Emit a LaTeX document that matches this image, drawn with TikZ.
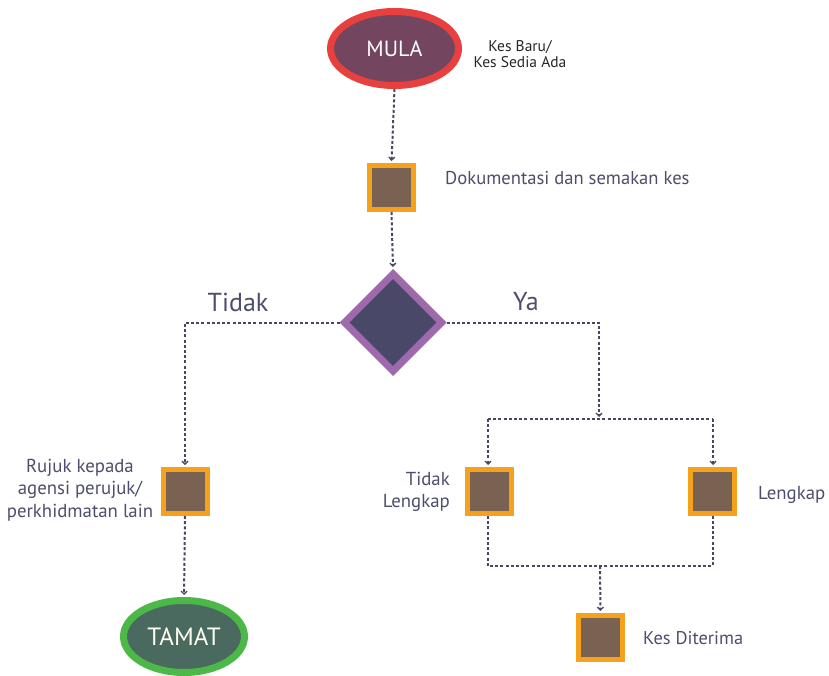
\documentclass[tikz,border=0pt]{standalone}
\usepackage{fontspec}
\setmainfont{PT Sans}
\usetikzlibrary{shapes.geometric,arrows.meta}
\definecolor{plum}{RGB}{115,69,94}
\definecolor{redring}{RGB}{232,64,63}
\definecolor{boxfill}{RGB}{122,98,83}
\definecolor{boxedge}{RGB}{245,161,28}
\definecolor{diafill}{RGB}{74,72,104}
\definecolor{diaedge}{RGB}{158,106,172}
\definecolor{greenring}{RGB}{76,184,72}
\definecolor{endfill}{RGB}{74,106,96}
\definecolor{linecol}{RGB}{72,70,100}
\definecolor{txt}{RGB}{77,77,109}
\newcommand{\fs}[2]{\fontsize{#1}{#2}\selectfont}
\tikzset{
  stepbox/.style={draw=boxedge, fill=boxfill, line width=5pt, minimum size=44pt, inner sep=0pt},
  flow/.style={draw=linecol, line width=2pt, dash pattern=on 3pt off 2.2pt},
  flowarrow/.style={flow, -{Straight Barb[length=3pt,width=6pt,line width=1.3pt]}, shorten >=2pt},
  lbl/.style={text=txt, inner sep=0pt},
}
\begin{document}
\begin{tikzpicture}[x=1pt,y=-1pt]
\useasboundingbox (0,0) rectangle (829,676);
% nodes
\node[ellipse, draw=redring, fill=plum, line width=7pt, minimum width=128pt, minimum height=74pt, inner sep=0pt, text=white, font=\fs{22}{26}] (mula) at (394.5,48.5) {MULA};
\node[lbl, text=black!85, align=center, font=\fs{15.5}{16}] (kesbaru) at (520,54) {Kes Baru/\\Kes Sedia Ada};
\node[stepbox] (dok) at (391.5,187.5) {};
\node[lbl, anchor=west, font=\fs{18.6}{22}] (doktxt) at (445,178) {Dokumentasi dan semakan kes};
\node[diamond, draw=diaedge, fill=diafill, line width=7pt, minimum width=100pt, minimum height=100pt, inner sep=0pt] (dia) at (393,322.5) {};
\node[lbl, font=\fs{26}{30}] (tidak) at (238,302) {Tidak};
\node[lbl, font=\fs{26}{30}] (ya) at (526,302) {Ya};
\node[stepbox] (rujuk) at (185,491.5) {};
\node[lbl, align=center, font=\fs{18.8}{22.5}] (rujuktxt) at (80,490) {Rujuk kepada\\agensi perujuk/\\perkhidmatan lain};
\node[ellipse, draw=greenring, fill=endfill, line width=7pt, minimum width=121pt, minimum height=72pt, inner sep=0pt, text=white!95!yellow, font=\fs{25}{28}] (tamat) at (184,636.5) {TAMAT};
\node[stepbox] (tl) at (489.5,491.5) {};
\node[lbl, align=right, anchor=east, font=\fs{18.8}{22.5}] (tltxt) at (450,492) {Tidak\\Lengkap};
\node[stepbox] (lk) at (712.5,491.5) {};
\node[lbl, anchor=west, font=\fs{18.8}{22}] (lktxt) at (758,495) {Lengkap};
\node[stepbox] (kd) at (600.5,637.5) {};
\node[lbl, anchor=west, font=\fs{18.4}{22}] (kdtxt) at (643,638) {Kes Diterima};
% junctions
\coordinate (j1) at (599,419);
\coordinate (jl) at (488,419);
\coordinate (jr) at (713,419);
\coordinate (bl) at (488,566);
\coordinate (br) at (713,566);
\coordinate (bm) at (600,566);
% connectors
\draw[flowarrow] (mula.south) -- (dok.north);
\draw[flowarrow] (dok.south) -- (dia.north);
\draw[flowarrow] (dia.west) -| (rujuk.north);
\draw[flowarrow] (rujuk.south) -- (tamat.north);
\draw[flowarrow] (dia.east) -| (j1);
\draw[flow] (jl) -- (jr);
\draw[flowarrow] (jl) -- (jl |- tl.north);
\draw[flowarrow] (jr) -- (jr |- lk.north);
\draw[flow] (bl |- tl.south) -- (bl) -- (br) -- (br |- lk.south);
\draw[flowarrow] (bm) -- (kd.north);
\end{tikzpicture}
\end{document}
